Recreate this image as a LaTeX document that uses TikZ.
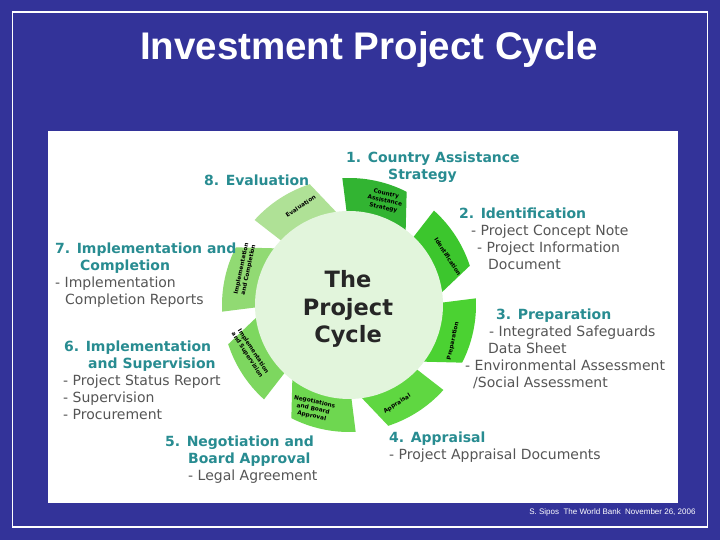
\documentclass[tikz,border=0pt]{standalone}
\usepackage{fontspec}
\usepackage{xcolor}
\usepackage{tikz}
\setmainfont{DejaVu Sans}
\newfontfamily\arialfont{Liberation Sans}

\definecolor{slideblue}{RGB}{51,51,153}
\definecolor{headteal}{RGB}{40,140,145}
\definecolor{bodygray}{RGB}{85,85,85}
\definecolor{hubfill}{RGB}{226,245,220}
\definecolor{segA}{RGB}{50,180,50}
\definecolor{segB}{RGB}{60,198,45}
\definecolor{segC}{RGB}{75,210,50}
\definecolor{segD}{RGB}{95,215,65}
\definecolor{segE}{RGB}{110,215,80}
\definecolor{segF}{RGB}{125,215,95}
\definecolor{segG}{RGB}{145,218,115}
\definecolor{segH}{RGB}{175,225,150}

\newcommand{\phasehead}[1]{\textcolor{headteal}{\bfseries #1}}

\begin{document}
\begin{tikzpicture}[x=1pt,y=1pt,
  phase/.style={anchor=north west,align=left,inner sep=0pt,text=bodygray,
    font=\fontsize{14}{17}\selectfont},
  seglabel/.style={align=center,inner sep=0pt,text=black,
    font=\bfseries\fontsize{5.8}{7.2}\selectfont}]
\useasboundingbox (0,0) rectangle (720,540);
\fill[slideblue] (0,0) rectangle (720,540);
\draw[white,line width=1.3pt] (12.5,13) rectangle (707.5,528);
\fill[white] (48,37) rectangle (678,409);

\node[anchor=base,text=white,font=\arialfont\bfseries\fontsize{38.5}{44}\selectfont]
  (title) at (369,480) {Investment Project Cycle};
\node[anchor=base east,text=white,font=\arialfont\fontsize{8}{10}\selectfont]
  (footer) at (699,25) {S. Sipos\ \ The World Bank\ \ November 26, 2006};

% the wheel
\begin{scope}[shift={(349,235)}]
\foreach \a/\col/\lab [count=\i] in {78/segA/{Country\\Assistance\\Strategy},
    33/segB/{Identification},-12/segC/{Preparation},-57/segD/{Appraisal},
    -102/segE/{Negotiations\\and Board\\Approval},
    -147/segF/{Implementation\\and Supervision},
    168/segG/{Implementation\\and Completion},123/segH/{Evaluation}}{
  \fill[\col] (\a+13:86) -- (\a+15:127)
    arc[start angle=\a+15,end angle=\a-15,radius=127]
    -- (\a-29:86) arc[start angle=\a-29,end angle=\a+13,radius=86] -- cycle;
  \pgfmathsetmacro\rot{sin(\a)>=0 ? \a-90 : \a+90}
  \node[seglabel,rotate=\rot] (seg\i) at (\a-7:110) {\lab};
}
\fill[hubfill] (0,0) circle (94);
\node[align=center,inner sep=0pt,text=black!85,
  font=\bfseries\fontsize{22.5}{27.5}\selectfont] (hub) at (-1,-4) {The\\Project\\Cycle};
\end{scope}

% phase texts
\node[phase] (phase1) at (346,388)
  {\phasehead{1. Country Assistance}\\\hspace*{42pt}\phasehead{Strategy}};
\node[phase] (phase2) at (459,332)
  {\phasehead{2. Identification}\\
   \hspace*{12pt}- Project Concept Note\\
   \hspace*{18pt}- Project Information\\
   \hspace*{29pt}Document};
\node[phase] (phase3) at (465,231)
  {\hspace*{31pt}\phasehead{3. Preparation}\\
   \hspace*{24pt}- Integrated Safeguards\\
   \hspace*{23pt}Data Sheet\\
   - Environmental Assessment\\
   \hspace*{8pt}/Social Assessment};
\node[phase] (phase4) at (389,108)
  {\phasehead{4. Appraisal}\\
   - Project Appraisal Documents};
\node[phase] (phase5) at (165,104)
  {\phasehead{5. Negotiation and}\\
   \hspace*{23pt}\phasehead{Board Approval}\\
   \hspace*{23pt}- Legal Agreement};
\node[phase] (phase6) at (63,199)
  {\hspace*{1pt}\phasehead{6. Implementation}\\
   \hspace*{25pt}\phasehead{and Supervision}\\
   - Project Status Report\\
   - Supervision\\
   - Procurement};
\node[phase] (phase7) at (55,297)
  {\phasehead{7. Implementation and}\\
   \hspace*{25pt}\phasehead{Completion}\\
   - Implementation\\
   \hspace*{10pt}Completion Reports};
\node[phase] (phase8) at (204,365) {\phasehead{8. Evaluation}};
\end{tikzpicture}
\end{document}
